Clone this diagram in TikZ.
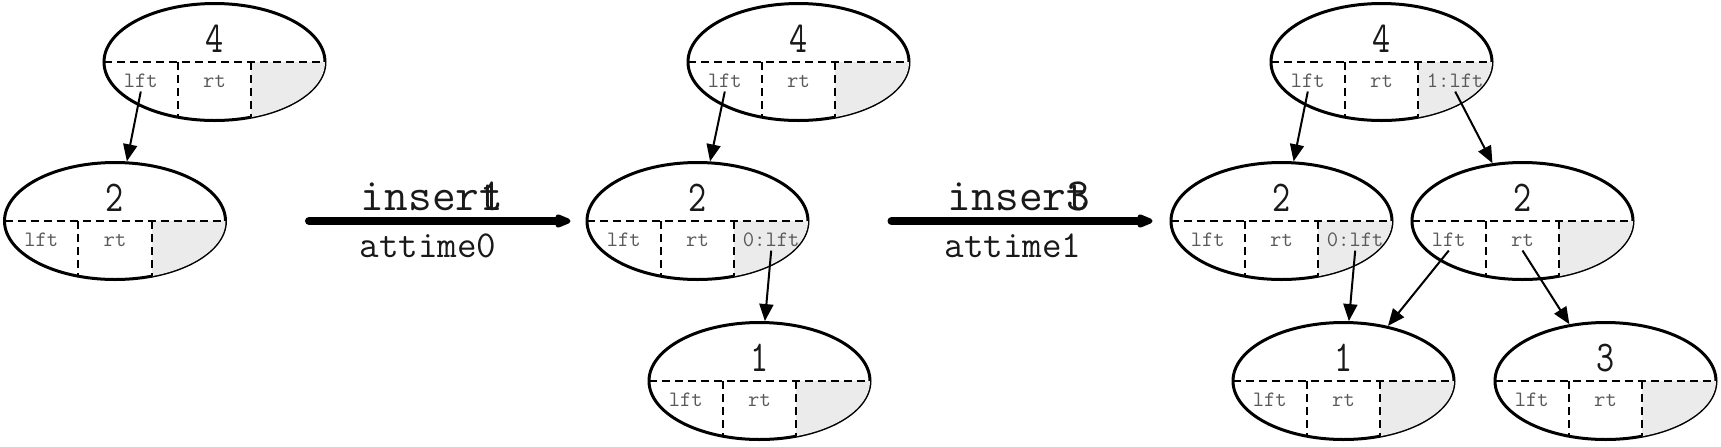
\documentclass[tikz,border=0pt]{standalone}
\usetikzlibrary{shapes.geometric, arrows.meta}
\tikzstyle{bigarrow} = [line width=4pt, line cap=round, -{Triangle[round,length=10pt,width=7pt]}]

% one tree node: name, position, key, text of the third cell
\newcommand{\bnode}[4]{%
  \node[bnode] (#1) at (#2) {};
  \begin{scope}[shift={(#1.center)}]
    \clip (0,0) ellipse [x radius=55.25pt, y radius=29.25pt];
    \fill[cellfill] (36.8,0) rectangle (112,60);
  \end{scope}
  \begin{scope}[shift={(#1.center)}]
    \draw[divider] (-110.5,0) -- (110.5,0);
    \draw[divider] (-36.8,0) -- (-36.8,55.2);
    \draw[divider] (36.8,0) -- (36.8,55.2);
    \node[keytext] (#1k) at (0,-10) {#3};
    \node[celltext] (#1l) at (-73.7,25) {lft};
    \node[celltext] (#1r) at (0,25) {rt};
    \node[celltext] (#1x) at (73.7,25) {#4};
  \end{scope}}

\begin{document}
\begin{tikzpicture}[
  x=0.5pt, y=-0.5pt,
  bnode/.style={ellipse, draw=black, line width=1.5pt, minimum width=110.5pt, minimum height=58.5pt, inner sep=0pt},
  cellfill/.style={fill=black!8},
  divider/.style={line width=1pt, dash pattern=on 4pt off 2.5pt},
  keytext/.style={anchor=base, inner sep=0pt, xscale=0.8, text=black!90, font=\ttfamily\fontsize{22}{22}\selectfont},
  celltext/.style={anchor=base, inner sep=2pt, text=black!65, font=\ttfamily\fontsize{11}{11}\selectfont},
  optext/.style={anchor=base, inner sep=0pt, text=black!90, font=\ttfamily\fontsize{23}{23}\selectfont},
  timetext/.style={anchor=base, inner sep=0pt, text=black!90, font=\ttfamily\fontsize{19}{19}\selectfont},
  link/.style={line width=1pt, -{Triangle[length=8.5pt,width=7pt]}}
]
\useasboundingbox (0,0) rectangle (1721,446);

% before
\bnode{A4}{214.5,62}{4}{}
\bnode{A2}{115,221}{2}{}
\draw[link] (A4l.south) -- (A2);

% after insert 1
\bnode{B4}{798.5,62}{4}{}
\bnode{B2}{697.5,221}{2}{0:lft}
\bnode{B1}{759.5,381}{1}{}
\draw[link] (B4l.south) -- (B2);
\draw[link] (B2x.south) -- (B1);

% after insert 3
\bnode{C4}{1381.5,62}{4}{1:lft}
\bnode{C2}{1281.5,221}{2}{0:lft}
\bnode{D2}{1522.5,221}{2}{}
\bnode{C1}{1343.5,381}{1}{}
\bnode{C3}{1605.5,381}{3}{}
\draw[link] (C4l.south) -- (C2);
\draw[link] (C4x.south) -- (D2);
\draw[link] (C2x.south) -- (C1);
\draw[link] (D2l.south) -- (C1);
\draw[link] (D2r.south) -- (C3);

% operations
\draw[bigarrow, shorten <=41pt, shorten >=7.5pt] (A2.east) -- (B2.west);
\node[optext] (op1) at (432,210) {inser\rlap{1}t};
\node[timetext] (tm1) at (428,257) {attime0};

\draw[bigarrow, shorten <=41pt, shorten >=8.5pt] (B2.east) -- (C2.west);
\node[optext] (op2) at (1019,210) {inser\rlap{3}t};
\node[timetext] (tm2) at (1013,257) {attime1};

\end{tikzpicture}
\end{document}
